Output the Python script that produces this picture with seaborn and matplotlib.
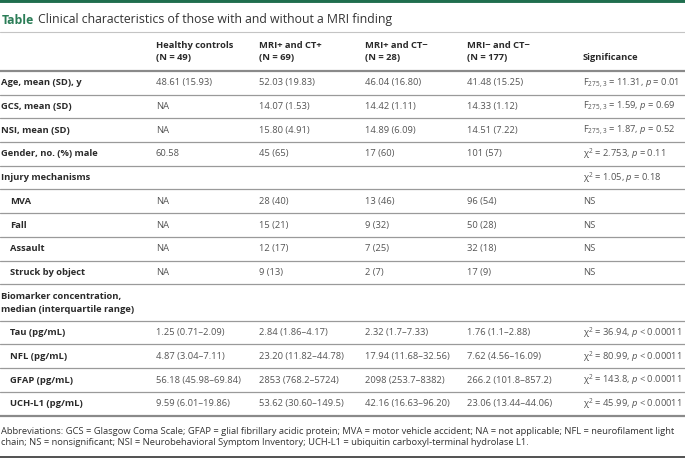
import matplotlib
matplotlib.use("Agg")
import matplotlib.pyplot as plt
import seaborn as sns

# Table content
title_tag = "Table"
title_text = "Clinical characteristics of those with and without a MRI finding"

col_headers = ["Healthy controls\n(N = 49)", "MRI+ and CT+\n(N = 69)",
               "MRI+ and CT\u2212\n(N = 28)", "MRI\u2212 and CT\u2212\n(N = 177)",
               "Significance"]

row_labels = ["Age, mean (SD), y", "GCS, mean (SD)", "NSI, mean (SD)",
              "Gender, no. (%) male", "Injury mechanisms", "MVA", "Fall",
              "Assault", "Struck by object",
              "Biomarker concentration,\nmedian (interquartile range)",
              "Tau (pg/mL)", "NFL (pg/mL)", "GFAP (pg/mL)", "UCH-L1 (pg/mL)"]
indented = [False, False, False, False, False, True, True, True, True,
            False, True, True, True, True]

healthy = ["48.61 (15.93)", "NA", "NA", "60.58", "", "NA", "NA", "NA", "NA", "",
           "1.25 (0.71\u20132.09)", "4.87 (3.04\u20137.11)",
           "56.18 (45.98\u201369.84)", "9.59 (6.01\u201319.86)"]
mri_ct = ["52.03 (19.83)", "14.07 (1.53)", "15.80 (4.91)", "45 (65)", "",
          "28 (40)", "15 (21)", "12 (17)", "9 (13)", "",
          "2.84 (1.86\u20134.17)", "23.20 (11.82\u201344.78)",
          "2853 (768.2\u20135724)", "53.62 (30.60\u2013149.5)"]
mri_noct = ["46.04 (16.80)", "14.42 (1.11)", "14.89 (6.09)", "17 (60)", "",
            "13 (46)", "9 (32)", "7 (25)", "2 (7)", "",
            "2.32 (1.7\u20137.33)", "17.94 (11.68\u201332.56)",
            "2098 (253.7\u20138382)", "42.16 (16.63\u201396.20)"]
neither = ["41.48 (15.25)", "14.33 (1.12)", "14.51 (7.22)", "101 (57)", "",
           "96 (54)", "50 (28)", "32 (18)", "17 (9)", "",
           "1.76 (1.1\u20132.88)", "7.62 (4.56\u201316.09)",
           "266.2 (101.8\u2013857.2)", "23.06 (13.44\u201344.06)"]
significance = [r"F$_{275,3}$ = 11.31, $p$ = 0.01",
                r"F$_{275,3}$ = 1.59, $p$ = 0.69",
                r"F$_{275,3}$ = 1.87, $p$ = 0.52",
                "\u03c7$^2$ = 2.753, $p$ = 0.11",
                "\u03c7$^2$ = 1.05, $p$ = 0.18",
                "NS", "NS", "NS", "NS", "",
                "\u03c7$^2$ = 36.94, $p$ < 0.00011",
                "\u03c7$^2$ = 80.99, $p$ < 0.00011",
                "\u03c7$^2$ = 143.8, $p$ < 0.00011",
                "\u03c7$^2$ = 45.99, $p$ < 0.00011"]

footnote = ("Abbreviations: GCS = Glasgow Coma Scale; GFAP = glial fibrillary acidic protein; "
            "MVA = motor vehicle accident; NA = not applicable; NFL = neurofilament light\n"
            "chain; NS = nonsignificant; NSI = Neurobehavioral Symptom Inventory; "
            "UCH-L1 = ubiquitin carboxyl-terminal hydrolase L1.")

sns.set_theme(style="white")
plt.rcParams["font.family"] = ["Open Sans", "DejaVu Sans"]
plt.rcParams["mathtext.fontset"] = "custom"
plt.rcParams["mathtext.rm"] = "Open Sans"
plt.rcParams["mathtext.it"] = "Open Sans:italic"
plt.rcParams["mathtext.bf"] = "Open Sans:bold"

W, H = 685, 459
fig = plt.figure(figsize=(W / 100, H / 100), dpi=100)
ax = fig.add_axes([0, 0, 1, 1])
ax.set_xlim(0, W)
ax.set_ylim(H, 0)
ax.axis("off")

green = "#1f6e4e"
label_c = "#2a2a2a"
value_c = "#555555"
line_c = "#9a9a9a"
fs = 6.75

# top bar and title
ax.axhline(1.3, color=green, lw=2.8)
ax.text(2, 20, title_tag, color="#2b7d57", fontsize=8.8, fontweight="bold", va="center")
ax.text(38, 20, title_text, color="#333333", fontsize=8.8, va="center")
ax.axhline(32, color="#c4c4c4", lw=0.8)

# header
col_x = [156, 259, 365, 467, 583]
for x, h in zip(col_x, col_headers):
    if "\n" in h:
        a, b = h.split("\n")
        ax.text(x, 46, a, fontsize=fs, fontweight="bold", color=label_c, va="center")
        ax.text(x, 58, b, fontsize=fs, fontweight="bold", color=label_c, va="center")
    else:
        ax.text(x, 58, h, fontsize=fs, fontweight="bold", color=label_c, va="center")
ax.axhline(71, color="#8a8a8a", lw=1.6)

# body rows
row_h = [23.7] * len(row_labels)
row_h[9] = 36.5
y = 71
columns = [healthy, mri_ct, mri_noct, neither, significance]
for i, lab in enumerate(row_labels):
    yc = y + row_h[i] / 2
    lx = 10 if indented[i] else 1
    if "\n" in lab:
        a, b = lab.split("\n")
        ax.text(lx, yc - 6, a, fontsize=fs, fontweight="bold", color=label_c, va="center")
        ax.text(lx, yc + 6.5, b, fontsize=fs, fontweight="bold", color=label_c, va="center")
    else:
        ax.text(lx, yc, lab, fontsize=fs, fontweight="bold", color=label_c, va="center")
    for x, col in zip(col_x, columns):
        if col[i]:
            ax.text(x, yc, col[i], fontsize=fs, color=value_c, va="center")
    y += row_h[i]
    if i < len(row_labels) - 1:
        ax.axhline(y, color=line_c, lw=0.9)
ax.axhline(y, color="#8a8a8a", lw=1.6)

# footnote
ax.text(1, y + 21.5, footnote, fontsize=fs, color="#333333", va="center", linespacing=1.28)
ax.axhline(456.5, color="#333333", lw=1.2)

fig.savefig("out.png", dpi=100)
